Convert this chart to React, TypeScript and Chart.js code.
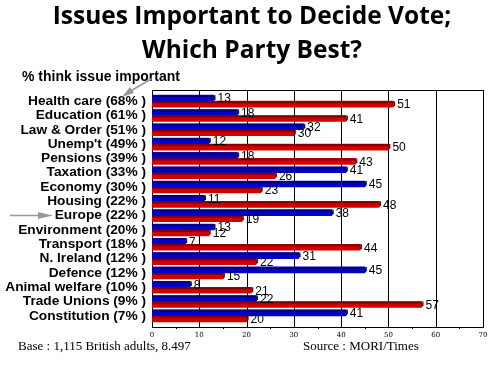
import React, { useEffect, useRef } from "react";
import { Chart, registerables } from "chart.js";

Chart.register(...registerables);

const categories = [
  "Health care (68% )",
  "Education (61% )",
  "Law & Order (51% )",
  "Unemp't (49% )",
  "Pensions (39% )",
  "Taxation (33% )",
  "Economy (30% )",
  "Housing (22% )",
  "Europe (22% )",
  "Environment (20% )",
  "Transport (18% )",
  "N. Ireland (12% )",
  "Defence (12% )",
  "Animal welfare (10% )",
  "Trade Unions (9% )",
  "Constitution (7% )",
];
const blueValues = [13, 18, 32, 12, 18, 41, 45, 11, 38, 13, 7, 31, 45, 8, 22, 41];
const redValues = [51, 41, 30, 50, 43, 26, 23, 48, 19, 12, 44, 22, 15, 21, 57, 20];
const titleLines = ["Issues Important to Decide Vote;", "Which Party Best?"];
const subtitle = "% think issue important";
const baseNote = "Base : 1,115 British adults, 8.497";
const sourceNote = "Source : MORI/Times";
const shadeColors = ["#000078", "#800000"];

const decorPlugin = {
  id: "decor",
  beforeDatasetsDraw(chart: any) {
    const { ctx } = chart;
    const xs = chart.scales.x;
    const top = 90;
    const bottom = 327;
    ctx.save();
    ctx.strokeStyle = "#000";
    ctx.lineWidth = 1;
    for (let v = 10; v < 70; v += 10) {
      const px = Math.round(xs.getPixelForValue(v)) + 0.5;
      ctx.beginPath();
      ctx.moveTo(px, top);
      ctx.lineTo(px, bottom);
      ctx.stroke();
    }
    const l = Math.round(xs.getPixelForValue(0)) + 0.5;
    const r = Math.round(xs.getPixelForValue(70)) + 0.5;
    ctx.strokeRect(l, top + 0.5, r - l, bottom - top);
    for (let v = 5; v < 70; v += 10) {
      const px = Math.round(xs.getPixelForValue(v)) + 0.5;
      ctx.beginPath();
      ctx.moveTo(px, bottom);
      ctx.lineTo(px, bottom + 2);
      ctx.stroke();
    }
    ctx.restore();
  },
  afterDatasetsDraw(chart: any) {
    const { ctx } = chart;
    ctx.save();
    chart.data.datasets.forEach((_ds: any, i: number) => {
      const meta = chart.getDatasetMeta(i);
      ctx.fillStyle = shadeColors[i];
      meta.data.forEach((bar: any) => {
        const h = bar.height;
        const y0 = bar.y - h / 2;
        const x0 = bar.base;
        const x1 = bar.x;
        ctx.beginPath();
        ctx.moveTo(x0, y0);
        ctx.lineTo(x1 + 2, y0);
        ctx.lineTo(x1, y0 + 2);
        ctx.lineTo(x0, y0 + 2);
        ctx.closePath();
        ctx.fill();
        ctx.beginPath();
        ctx.moveTo(x1, y0 + 2);
        ctx.lineTo(x1 + 2, y0);
        ctx.lineTo(x1 + 2, y0 + h - 2);
        ctx.lineTo(x1, y0 + h);
        ctx.closePath();
        ctx.fill();
      });
    });
    ctx.font = "12px 'Liberation Sans', Arial, sans-serif";
    ctx.fillStyle = "#000";
    ctx.textBaseline = "middle";
    ctx.textAlign = "left";
    chart.data.datasets.forEach((ds: any, i: number) => {
      const meta = chart.getDatasetMeta(i);
      meta.data.forEach((bar: any, j: number) => {
        ctx.fillText(String(ds.data[j]), bar.x + 4, bar.y + 1);
      });
    });
    ctx.restore();
  },
  afterDraw(chart: any) {
    const { ctx, width } = chart;
    ctx.save();
    ctx.fillStyle = "#000";
    ctx.textAlign = "center";
    ctx.textBaseline = "alphabetic";
    ctx.font = "bold 24.5px 'Open Sans', Lato, sans-serif";
    ctx.fillText(titleLines[0], width / 2, 24);
    ctx.fillText(titleLines[1], width / 2, 58);
    ctx.textAlign = "left";
    ctx.font = "bold 14px 'Liberation Sans', Arial, sans-serif";
    ctx.fillText(subtitle, 22, 81);
    ctx.font = "13px 'Liberation Serif', 'Times New Roman', serif";
    ctx.fillText(baseNote, 18, 350);
    ctx.fillText(sourceNote, 303, 350);
    ctx.strokeStyle = "#999";
    ctx.fillStyle = "#999";
    ctx.lineWidth = 1.5;
    ctx.beginPath();
    ctx.moveTo(151, 79);
    ctx.lineTo(129, 92);
    ctx.stroke();
    ctx.beginPath();
    ctx.moveTo(122, 97);
    ctx.lineTo(130, 87);
    ctx.lineTo(134, 93);
    ctx.closePath();
    ctx.fill();
    ctx.beginPath();
    ctx.moveTo(10, 215.5);
    ctx.lineTo(42, 215.5);
    ctx.stroke();
    ctx.beginPath();
    ctx.moveTo(53, 215.5);
    ctx.lineTo(38, 212);
    ctx.lineTo(38, 219);
    ctx.closePath();
    ctx.fill();
    ctx.restore();
  },
};

export default function App() {
  const ref = useRef<HTMLCanvasElement | null>(null);
  useEffect(() => {
    document.body.style.margin = "0";
    const canvas = ref.current!;
    const chart = new Chart(canvas, {
      type: "bar",
      data: {
        labels: categories,
        datasets: [
          {
            label: "Conservative",
            data: blueValues,
            backgroundColor: "#0000c8",
            borderWidth: 0,
            barThickness: 6,
          },
          {
            label: "Labour",
            data: redValues,
            backgroundColor: "#d00000",
            borderWidth: 0,
            barThickness: 6,
          },
        ],
      },
      options: {
        indexAxis: "y",
        animation: false,
        responsive: false,
        maintainAspectRatio: false,
        layout: { padding: { top: 94, left: 0, right: 21, bottom: 0 } },
        plugins: {
          legend: { display: false },
          tooltip: { enabled: false },
          title: { display: false },
        },
        scales: {
          x: {
            min: 0,
            max: 70,
            grid: { display: false, drawTicks: false },
            border: { display: false },
            ticks: {
              stepSize: 10,
              padding: 8,
              color: "#000",
              font: { size: 7, family: "'DejaVu Serif', serif" },
              maxRotation: 0,
            },
            afterFit(scale: any) {
              scale.height = 46;
            },
          },
          y: {
            grid: { display: false, drawTicks: false },
            border: { display: false },
            ticks: {
              padding: 6,
              color: "#000",
              autoSkip: false,
              font: { size: 13.7, weight: "bold", family: "'Liberation Sans', Arial, sans-serif" },
            },
            afterFit(scale: any) {
              scale.width = 152;
            },
          },
        },
      },
      plugins: [decorPlugin],
    });
    return () => chart.destroy();
  }, []);
  return (
    <div style={{ width: 504, height: 369, background: "#fff" }}>
      <canvas ref={ref} width={504} height={369} style={{ display: "block" }} />
    </div>
  );
}
